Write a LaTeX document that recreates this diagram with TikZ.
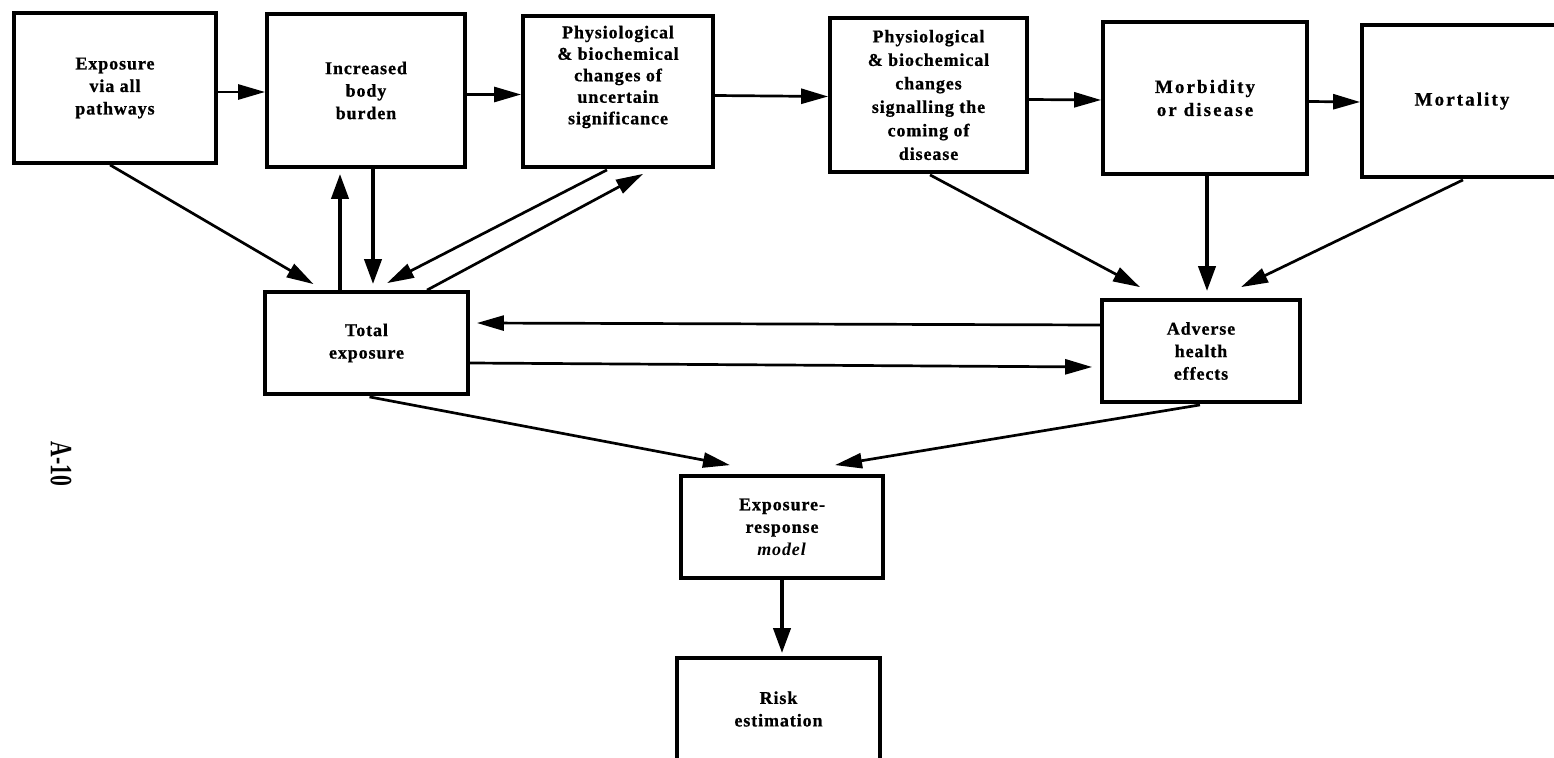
\documentclass[tikz,border=0pt]{standalone}
\usepackage{fontspec}
\setmainfont{Liberation Serif}
\newfontfamily\boxfam[LetterSpace=5,BoldFeatures={FakeBold=0.8}]{Liberation Serif}
\newfontfamily\wideboxfam[LetterSpace=11,BoldFeatures={FakeBold=0.6}]{Liberation Serif}
\usetikzlibrary{arrows.meta,calc}
\begin{document}
\begin{tikzpicture}[x=1pt,y=-1pt,
  box/.style={draw, line width=3.8pt, inner sep=0pt, align=center,
    font=\boxfam\bfseries\fontsize{18}{22.5}\selectfont},
  widebox/.style={box, font=\wideboxfam\bfseries\fontsize{19}{23}\selectfont},
  boxtext/.style={align=center, inner sep=0pt,
    font=\boxfam\bfseries\fontsize{18}{21.5}\selectfont},
  arr/.style={line width=2.7pt, -{Triangle[length=27pt,width=15pt]}},
  thickarr/.style={arr, line width=4pt, -{Triangle[length=25pt,width=17pt]}}]
\fill[white] (0,0) rectangle (1554,757);
\useasboundingbox (0,0) rectangle (1554,757);
\clip (0,0) rectangle (1554,757);

% top row: from exposure to mortality
\node[box, minimum width=202pt, minimum height=150pt] (b1) at (115,88)
  {Exposure\\via all\\pathways};
\node[box, minimum width=198pt, minimum height=153pt] (b2) at (366,90.5)
  {Increased\\body\\burden};
\node[box, minimum width=190pt, minimum height=151pt,
  label={[boxtext, yshift=14.5pt]center:Physiological\\\& biochemical\\changes of\\uncertain\\significance}]
  (b3) at (618,91.5) {};
\node[box, minimum width=197pt, minimum height=154pt,
  font=\boxfam\bfseries\fontsize{18}{23.5}\selectfont] (b4) at (928.5,95)
  {Physiological\\\& biochemical\\changes\\signalling the\\coming of\\disease};
\node[widebox, minimum width=204pt, minimum height=152pt] (b5) at (1205,98)
  {Morbidity\\or disease};
\node[widebox, minimum width=200pt, minimum height=152pt] (b6) at (1462,101)
  {Mortality};

% middle and bottom boxes
\node[box, minimum width=203pt, minimum height=102pt] (tot) at (366.5,343)
  {Total\\exposure};
\node[box, minimum width=198pt, minimum height=102pt] (adv) at (1201,351)
  {Adverse\\health\\effects};
\node[box, minimum width=202pt, minimum height=102pt] (erm) at (782,527)
  {Exposure-\\response\\\textit{model}};
\node[box, minimum width=203pt, minimum height=102pt] (risk) at (778.5,709)
  {Risk\\estimation};

% page number
\node[rotate=-90, inner sep=0pt] (page) at (61,464)
  {\scalebox{0.7}[1]{\fontsize{31}{31}\selectfont\bfseries A-10}};

% chain along the top row
\draw[arr] ($(b1.east)+(0,4)$) -- ($(b2.west)+(0,1.5)$);
\draw[arr] ($(b2.east)+(0,4)$) -- ($(b3.west)+(0,3)$);
\draw[arr] ($(b3.east)+(0,4)$) -- ($(b4.west)+(0,1.5)$);
\draw[arr] ($(b4.east)+(0,4.5)$) -- ($(b5.west)+(0,2)$);
\draw[arr] ($(b5.east)+(0,3.5)$) -- ($(b6.west)+(0,1)$);

% links around total exposure
\draw[arr] ($(b1.south)+(-5,0)$) -- ($(tot.north)+(-53,-6)$);
\draw[thickarr] ($(tot.north)+(-26.5,0)$) -- ($(b2.south)+(-26,5)$);
\draw[thickarr] ($(b2.south)+(7,0)$) -- ($(tot.north)+(6.5,-6)$);
\draw[arr] ($(b3.south)+(-11,1)$) -- ($(tot.north)+(20.5,-7)$);
\draw[arr] ($(tot.north)+(60.5,0)$) -- ($(b3.south)+(25,5)$);

% links into adverse health effects
\draw[arr] ($(b4.south)+(1.5,1)$) -- ($(adv.north)+(-61,-11)$);
\draw[thickarr] ($(b5.south)+(2,0)$) -- ($(adv.north)+(6,-7)$);
\draw[arr] ($(b6.south)+(1,1)$) -- ($(adv.north)+(40,-11)$);

% exchange between the two middle boxes
\draw[arr] ($(adv.west)+(0,-26)$) -- ($(tot.east)+(7,-20)$);
\draw[arr] ($(tot.east)+(0,20)$) -- ($(adv.west)+(-8,16)$);

% towards the model and the risk estimate
\draw[arr] ($(tot.south)+(3,1)$) -- ($(erm.north)+(-52,-9)$);
\draw[arr] ($(adv.south)+(-1,1)$) -- ($(erm.north)+(53,-9)$);
\draw[thickarr] (erm.south) -- ($(risk.north)+(3.5,-3)$);
\end{tikzpicture}
\end{document}
